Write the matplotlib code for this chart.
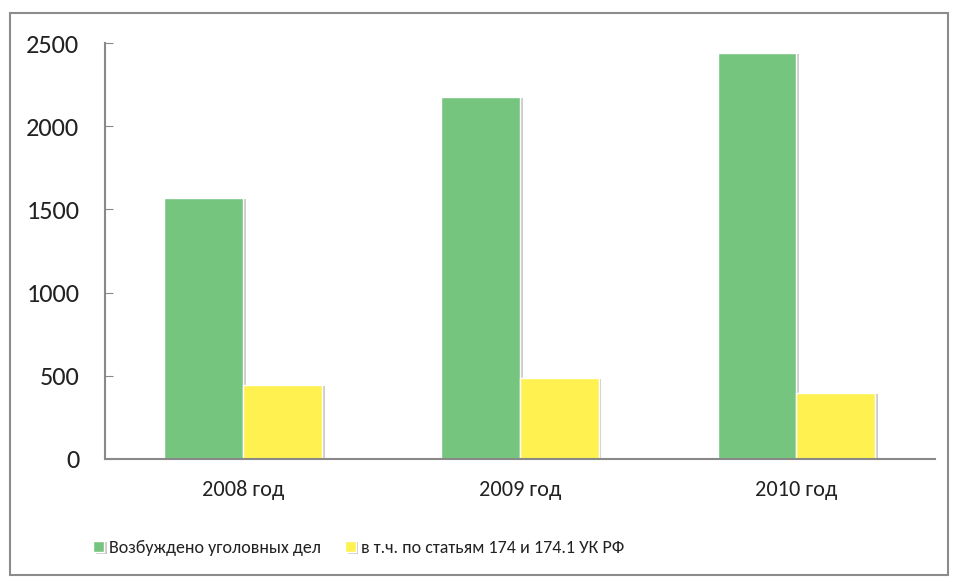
import matplotlib
matplotlib.use("Agg")
import matplotlib.pyplot as plt
import matplotlib.patheffects as pe
from matplotlib.patches import Rectangle
import numpy as np

plt.rcParams['font.family'] = ['Carlito', 'DejaVu Sans']

years = ["2008 год", "2009 год", "2010 год"]
cases_total = [1570, 2175, 2440]
cases_174 = [445, 487, 397]
series_names = ["Возбуждено уголовных дел", "в т.ч. по статьям 174 и 174.1 УК РФ"]
colors = ["#75c57f", "#fff150"]
yticks = [0, 500, 1000, 1500, 2000, 2500]

fig = plt.figure(figsize=(9.57, 5.83), dpi=100)
ax = fig.add_axes([0.1097, 0.2127, 0.867, 0.7135])

x = np.arange(len(years))
w = 0.285
shadow = [pe.SimplePatchShadow(offset=(2, -1), shadow_rgbFace="#999999", alpha=0.5), pe.Normal()]
b1 = ax.bar(x - w / 2, cases_total, w, color=colors[0], edgecolor="white", linewidth=1,
            label=series_names[0], path_effects=shadow)
b2 = ax.bar(x + w / 2, cases_174, w, color=colors[1], edgecolor="white", linewidth=1,
            label=series_names[1], path_effects=shadow)

ax.set_xlim(-0.5, len(years) - 0.5)
ax.set_ylim(0, 2500)
ax.set_yticks(yticks)
ax.set_xticks(x)
ax.set_xticklabels(years, fontsize=16)
ax.tick_params(axis="y", direction="in", length=6, color="#898989", labelsize=19,
               pad=18.5, labelcolor="#222222")
ax.tick_params(axis="x", length=0, pad=15, labelcolor="#222222")
for s in ["top", "right"]:
    ax.spines[s].set_visible(False)
for s in ["left", "bottom"]:
    ax.spines[s].set_color("#898989")
    ax.spines[s].set_linewidth(1.5)

# legend below the plot, left-anchored like the original
leg = fig.legend(handles=[b1, b2], labels=series_names, loc="center left",
                 bbox_to_anchor=(93 / 957, 0.06), ncol=2, frameon=False,
                 prop={"size": 13}, borderpad=0, borderaxespad=0,
                 handlelength=0.6, handleheight=0.6, handletextpad=0.3, columnspacing=1.3)
for t in leg.get_texts():
    t.set_color("#222222")

fig.patches.append(Rectangle((10 / 957, 8 / 583), 938 / 957, 562 / 583, transform=fig.transFigure,
                             fill=False, edgecolor="#8c8c8c", linewidth=1.5))

fig.savefig("out.png", dpi=100)
